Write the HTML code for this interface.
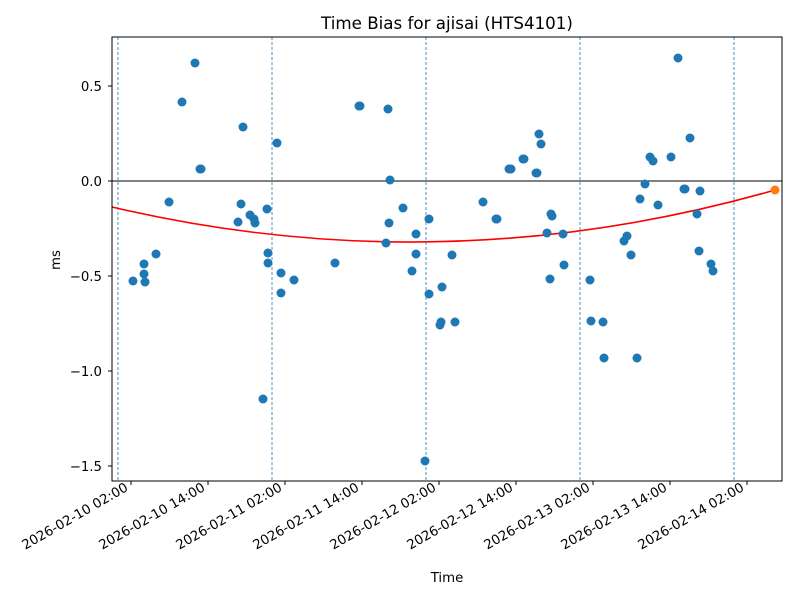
<!DOCTYPE html>
<html><head><meta charset="utf-8"><style>body{margin:0;background:#fff}svg{display:block;font-family:"DejaVu Sans","Liberation Sans",sans-serif}</style></head>
<body>
<svg width="800" height="600" viewBox="0 0 800 600">
<rect width="800" height="600" fill="#fff"/>
<text x="447" y="29" font-size="16.7" text-anchor="middle">Time Bias for ajisai (HTS4101)</text>
<g stroke="#1f77b4" stroke-width="0.8" stroke-dasharray="3,2">
<line x1="118" y1="37" x2="118" y2="481"/><line x1="272" y1="37" x2="272" y2="481"/><line x1="426" y1="37" x2="426" y2="481"/><line x1="580" y1="37" x2="580" y2="481"/><line x1="734" y1="37" x2="734" y2="481"/>
</g>
<line x1="112" y1="181" x2="782" y2="181" stroke="#000" stroke-width="1"/>
<path d="M112,207 Q443.5,284.7 775,190" fill="none" stroke="red" stroke-width="1.6"/>
<g fill="#1f77b4">
<circle cx="133" cy="281" r="4.5"/><circle cx="144" cy="264" r="4.5"/><circle cx="144" cy="274" r="4.5"/><circle cx="145" cy="282" r="4.5"/><circle cx="156" cy="254" r="4.5"/><circle cx="169" cy="202" r="4.5"/><circle cx="182" cy="102" r="4.5"/><circle cx="195" cy="63" r="4.5"/><circle cx="200" cy="169" r="4.5"/><circle cx="201" cy="169" r="4.5"/><circle cx="238" cy="222" r="4.5"/><circle cx="241" cy="204" r="4.5"/><circle cx="243" cy="127" r="4.5"/><circle cx="250" cy="215" r="4.5"/><circle cx="254" cy="219" r="4.5"/><circle cx="255" cy="223" r="4.5"/><circle cx="263" cy="399" r="4.5"/><circle cx="267" cy="209" r="4.5"/><circle cx="268" cy="253" r="4.5"/><circle cx="268" cy="263" r="4.5"/><circle cx="277" cy="143" r="4.5"/><circle cx="281" cy="273" r="4.5"/><circle cx="281" cy="293" r="4.5"/><circle cx="294" cy="280" r="4.5"/><circle cx="335" cy="263" r="4.5"/><circle cx="359" cy="106" r="4.5"/><circle cx="360" cy="106" r="4.5"/><circle cx="386" cy="243" r="4.5"/><circle cx="388" cy="109" r="4.5"/><circle cx="389" cy="223" r="4.5"/><circle cx="390" cy="180" r="4.5"/><circle cx="403" cy="208" r="4.5"/><circle cx="412" cy="271" r="4.5"/><circle cx="416" cy="234" r="4.5"/><circle cx="416" cy="254" r="4.5"/><circle cx="425" cy="461" r="4.5"/><circle cx="429" cy="219" r="4.5"/><circle cx="429" cy="294" r="4.5"/><circle cx="440" cy="325" r="4.5"/><circle cx="441" cy="322" r="4.5"/><circle cx="442" cy="287" r="4.5"/><circle cx="452" cy="255" r="4.5"/><circle cx="455" cy="322" r="4.5"/><circle cx="483" cy="202" r="4.5"/><circle cx="496" cy="219" r="4.5"/><circle cx="497" cy="219" r="4.5"/><circle cx="509" cy="169" r="4.5"/><circle cx="511" cy="169" r="4.5"/><circle cx="523" cy="159" r="4.5"/><circle cx="524" cy="159" r="4.5"/><circle cx="536" cy="173" r="4.5"/><circle cx="537" cy="173" r="4.5"/><circle cx="539" cy="134" r="4.5"/><circle cx="541" cy="144" r="4.5"/><circle cx="547" cy="233" r="4.5"/><circle cx="550" cy="279" r="4.5"/><circle cx="551" cy="214" r="4.5"/><circle cx="552" cy="216" r="4.5"/><circle cx="563" cy="234" r="4.5"/><circle cx="564" cy="265" r="4.5"/><circle cx="590" cy="280" r="4.5"/><circle cx="591" cy="321" r="4.5"/><circle cx="603" cy="322" r="4.5"/><circle cx="604" cy="358" r="4.5"/><circle cx="624" cy="241" r="4.5"/><circle cx="627" cy="236" r="4.5"/><circle cx="631" cy="255" r="4.5"/><circle cx="637" cy="358" r="4.5"/><circle cx="640" cy="199" r="4.5"/><circle cx="645" cy="184" r="4.5"/><circle cx="650" cy="157" r="4.5"/><circle cx="653" cy="161" r="4.5"/><circle cx="658" cy="205" r="4.5"/><circle cx="671" cy="157" r="4.5"/><circle cx="678" cy="58" r="4.5"/><circle cx="684" cy="189" r="4.5"/><circle cx="685" cy="189" r="4.5"/><circle cx="690" cy="138" r="4.5"/><circle cx="697" cy="214" r="4.5"/><circle cx="699" cy="251" r="4.5"/><circle cx="700" cy="191" r="4.5"/><circle cx="711" cy="264" r="4.5"/><circle cx="713" cy="271" r="4.5"/>
</g>
<circle cx="775" cy="190" r="4.5" fill="#ff7f0e"/>
<rect x="112" y="37" width="670" height="444" fill="none" stroke="#000" stroke-width="1"/>
<g font-size="13.3" text-anchor="end">
<text x="102" y="91">0.5</text><text x="102" y="186">0.0</text><text x="102" y="281">−0.5</text><text x="102" y="376">−1.0</text><text x="102" y="471">−1.5</text>
</g>
<g stroke="#000"><line x1="108" y1="86" x2="112" y2="86"/><line x1="108" y1="181" x2="112" y2="181"/><line x1="108" y1="276" x2="112" y2="276"/><line x1="108" y1="371" x2="112" y2="371"/><line x1="108" y1="466" x2="112" y2="466"/></g>
<text x="60" y="260" font-size="13.3" text-anchor="middle" transform="rotate(-90 60 260)">ms</text>
<g stroke="#000">
<line x1="131" y1="481" x2="131" y2="485"/><line x1="208" y1="481" x2="208" y2="485"/><line x1="285" y1="481" x2="285" y2="485"/><line x1="362" y1="481" x2="362" y2="485"/><line x1="439" y1="481" x2="439" y2="485"/><line x1="516" y1="481" x2="516" y2="485"/><line x1="593" y1="481" x2="593" y2="485"/><line x1="670" y1="481" x2="670" y2="485"/><line x1="747" y1="481" x2="747" y2="485"/>
</g>
<g font-size="13.3" text-anchor="end">
<text x="129" y="490" transform="rotate(-30 129 490)">2026-02-10 02:00</text>
<text x="206" y="490" transform="rotate(-30 206 490)">2026-02-10 14:00</text>
<text x="283" y="490" transform="rotate(-30 283 490)">2026-02-11 02:00</text>
<text x="360" y="490" transform="rotate(-30 360 490)">2026-02-11 14:00</text>
<text x="437" y="490" transform="rotate(-30 437 490)">2026-02-12 02:00</text>
<text x="514" y="490" transform="rotate(-30 514 490)">2026-02-12 14:00</text>
<text x="591" y="490" transform="rotate(-30 591 490)">2026-02-13 02:00</text>
<text x="668" y="490" transform="rotate(-30 668 490)">2026-02-13 14:00</text>
<text x="745" y="490" transform="rotate(-30 745 490)">2026-02-14 02:00</text>
</g>
<text x="447" y="582" font-size="13.3" text-anchor="middle">Time</text>
</svg>
</body></html>
